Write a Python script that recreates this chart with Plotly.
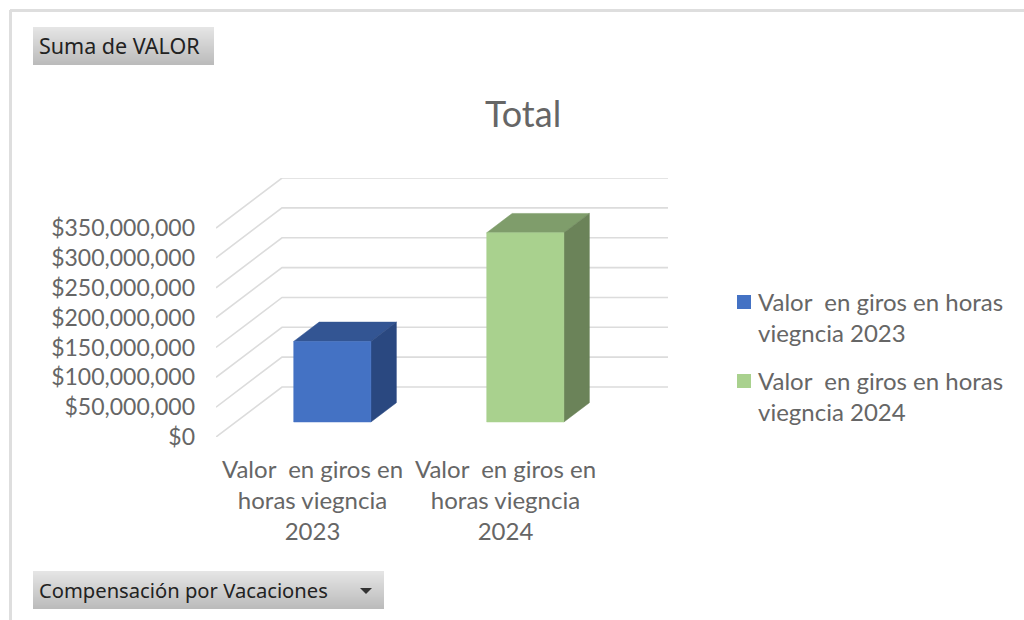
import plotly.graph_objects as go

# ---- data ----
categories = ["Valor  en giros en<br>horas viegncia<br>2023", "Valor  en giros en<br>horas viegncia<br>2024"]
series_names = ["Valor  en giros en horas<br>viegncia 2023", "Valor  en giros en horas<br>viegncia 2024"]
values = [135000000, 317000000]
y_ticks = [0, 50000000, 100000000, 150000000, 200000000, 250000000, 300000000, 350000000]
y_tick_labels = ["$0", "$50,000,000", "$100,000,000", "$150,000,000", "$200,000,000",
                 "$250,000,000", "$300,000,000", "$350,000,000"]
title_text = "Total"
value_button = "Suma de VALOR"
filter_button = "Compensación por Vacaciones"

# ---- style ----
W, H = 1024, 620
L, R, T, B = 216, 668, 178, 437
FRONT = ["#4472C4", "#A9D18E"]
TOP = ["#335593", "#7F9D6B"]
SIDE = ["#2A4880", "#6B8359"]
GRID = "#DCDCDC"
TXT = "#666666"
FONT = "Lato"
BTN_FONT = "Noto Sans"
BTN_TXT = "#222222"

# ---- pseudo-3D projection on ordinary axes ----
PX_PER_CAT = 193.0
PX_PER_VAL = 29.85 / 50000000
DEPTH_X = 66 / PX_PER_CAT           # category units per full depth
DEPTH_Y = 50 / PX_PER_VAL           # value units per full depth
X0, X1 = -0.5, -0.5 + (R - L) / PX_PER_CAT
Y1 = (B - T) / PX_PER_VAL
BAR_W = 0.4
D0, D1 = 0.3, 0.686


def proj(c, v, d):
    return c + d * DEPTH_X, v + d * DEPTH_Y


def px(x):
    return (x - L) / (R - L)


def py(y):
    return (B - y) / (B - T)


def poly(corners, color):
    xs = [p[0] for p in corners] + [corners[0][0]]
    ys = [p[1] for p in corners] + [corners[0][1]]
    return go.Scatter(x=xs, y=ys, mode="lines", fill="toself", fillcolor=color,
                      line=dict(color=color, width=0.5), hoverinfo="skip",
                      showlegend=False, cliponaxis=False)


fig = go.Figure()

# gridlines: left wall + back wall
for t in y_ticks:
    a = proj(X0, t, 0)
    b = proj(X0, t, 1)
    c = proj(X0 + (X1 - X0) - DEPTH_X, t, 1)
    fig.add_trace(go.Scatter(x=[a[0], b[0], c[0]], y=[a[1], b[1], c[1]], mode="lines",
                             line=dict(color=GRID, width=1.6), hoverinfo="skip",
                             showlegend=False, cliponaxis=False))

# bars
for i, v in enumerate(values):
    c0, c1 = i - BAR_W / 2, i + BAR_W / 2
    fig.add_trace(poly([proj(c0, v, D0), proj(c1, v, D0), proj(c1, v, D1), proj(c0, v, D1)], TOP[i]))
    fig.add_trace(poly([proj(c1, 0, D0), proj(c1, v, D0), proj(c1, v, D1), proj(c1, 0, D1)], SIDE[i]))
    fig.add_trace(poly([proj(c0, 0, D0), proj(c1, 0, D0), proj(c1, v, D0), proj(c0, v, D0)], FRONT[i]))

shapes = []
annotations = []


def button(x0, y0, x1, y1):
    n = int(y1 - y0)
    for k in range(n):
        f = k / max(n - 1, 1)
        g = int(round(229 - f * (229 - 187)))
        col = f"rgb({g},{g},{g})"
        shapes.append(dict(type="rect", xref="paper", yref="paper", x0=px(x0), x1=px(x1),
                           y0=py(y0 + k), y1=py(y0 + k + 1), fillcolor=col, line=dict(width=0),
                           layer="below"))


# frame of the sheet
shapes.append(dict(type="line", xref="paper", yref="paper", x0=px(10), x1=px(1024), y0=py(10.5), y1=py(10.5),
                   line=dict(color="#DEDEDE", width=3), layer="below"))
shapes.append(dict(type="line", xref="paper", yref="paper", x0=px(10.5), x1=px(10.5), y0=py(10), y1=py(620),
                   line=dict(color="#DEDEDE", width=3), layer="below"))
button(33, 27, 214, 65)
button(33, 571, 384, 609)

# dropdown triangle
shapes.append(dict(type="path", xref="paper", yref="paper", layer="above",
                   path=f"M {px(360)} {py(588)} L {px(372)} {py(588)} L {px(366)} {py(594)} Z",
                   fillcolor="#333333", line=dict(width=0)))


def note(x, y, text, size, color, font=FONT, xanchor="left"):
    annotations.append(dict(xref="paper", yref="paper", x=px(x), y=py(y), text=text, showarrow=False,
                            xanchor=xanchor, yanchor="middle", align="left",
                            font=dict(family=font, size=size, color=color), borderpad=0))


note(38, 46, value_button, 21.5, BTN_TXT, BTN_FONT)
note(38, 590, filter_button, 20.2, BTN_TXT, BTN_FONT)

# legend
legend_y = [317, 396]
for name, col, ly in zip(series_names, FRONT, legend_y):
    shapes.append(dict(type="rect", xref="paper", yref="paper", x0=px(737), x1=px(751),
                       y0=py(ly - 22), y1=py(ly - 8), fillcolor=col, line=dict(width=0)))
    note(757, ly, name, 24, TXT)

fig.update_layout(
    width=W, height=H, autosize=False,
    margin=dict(l=L, r=W - R, t=T, b=H - B, pad=0),
    paper_bgcolor="white", plot_bgcolor="rgba(0,0,0,0)",
    showlegend=False,
    title=dict(text=title_text, x=523 / W, xanchor="center", y=1 - 114 / H, yanchor="middle",
               font=dict(family=FONT, size=36, color=TXT)),
    font=dict(family=FONT, color=TXT),
    shapes=shapes, annotations=annotations,
    xaxis=dict(range=[X0, X1], tickmode="array", tickvals=[0, 1], ticktext=categories,
               showgrid=False, zeroline=False, showline=False, ticks="", ticklabelstandoff=16,
               tickfont=dict(family=FONT, size=24, color=TXT)),
    yaxis=dict(range=[0, Y1], tickmode="array", tickvals=y_ticks, ticktext=y_tick_labels,
               showgrid=False, zeroline=False, showline=False, ticks="", ticklabelstandoff=20,
               tickfont=dict(family=FONT, size=23, color=TXT)),
)
fig.write_html("out.html", config={"displayModeBar": False},
               post_script="document.body.style.margin='0';")
